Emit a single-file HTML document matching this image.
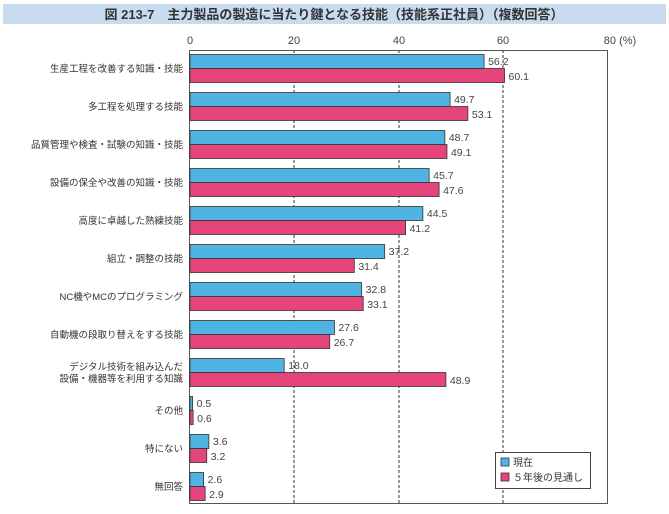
<!DOCTYPE html>
<html><head><meta charset="utf-8"><style>
body{margin:0;background:#fff;width:669px;height:509px;overflow:hidden;font-family:"Liberation Sans","Noto Sans CJK JP",sans-serif}
</style></head><body>
<svg width="669" height="509" xmlns="http://www.w3.org/2000/svg" font-family="Liberation Sans, Noto Sans CJK JP, sans-serif">
<rect x="3" y="4" width="663" height="20" fill="#c9dcef"/>
<text x="334" y="19" text-anchor="middle" font-size="13" font-weight="bold" fill="#333">図 213-7　主力製品の製造に当たり鍵となる技能（技能系正社員）（複数回答）</text>
<g font-size="11" fill="#444" text-anchor="middle">
<text x="190" y="44">0</text><text x="294" y="44">20</text><text x="399" y="44">40</text><text x="503" y="44">60</text><text x="620" y="44">80 (%)</text>
</g>
<g stroke="#333" stroke-dasharray="3,2" stroke-width="1">
<line x1="294" y1="50" x2="294" y2="503"/><line x1="399" y1="50" x2="399" y2="503"/><line x1="503" y1="50" x2="503" y2="503"/>
</g>
<rect x="189.5" y="50.5" width="418" height="453" fill="none" stroke="#555" stroke-width="1"/>
<g id="bars"></g>
<rect x="495.5" y="452.5" width="95" height="36" fill="#fff" stroke="#444"/>
<rect x="501" y="458" width="8" height="8" fill="#4fb3e3" stroke="#333" stroke-width="0.8"/>
<text x="513" y="466" font-size="10" fill="#333">現在</text>
<rect x="501" y="473" width="8" height="8" fill="#e5457c" stroke="#333" stroke-width="0.8"/>
<text x="513" y="481" font-size="10" fill="#333">５年後の見通し</text>
</svg>
<script>
const d=[["生産工程を改善する知識・技能",56.2,60.1],["多工程を処理する技能",49.7,53.1],["品質管理や検査・試験の知識・技能",48.7,49.1],["設備の保全や改善の知識・技能",45.7,47.6],["高度に卓越した熟練技能",44.5,41.2],["組立・調整の技能",37.2,31.4],["NC機やMCのプログラミング",32.8,33.1],["自動機の段取り替えをする技能",27.6,26.7],["デジタル技術を組み込んだ|設備・機器等を利用する知識",18.0,48.9],["その他",0.5,0.6],["特にない",3.6,3.2],["無回答",2.6,2.9]];
const g=document.getElementById('bars');const ns="http://www.w3.org/2000/svg";let h='';
const s=5.233,x0=190;
d.forEach((r,i)=>{const y=54+i*38;
const L=r[0].split('|');
if(L.length==1)h+=`<text x="183" y="${y+18}" font-size="9.5" fill="#333" text-anchor="end">${L[0]}</text>`;
else h+=`<text x="183" y="${y+12}" font-size="9.5" fill="#333" text-anchor="end">${L[0]}</text><text x="183" y="${y+24}" font-size="9.5" fill="#333" text-anchor="end">${L[1]}</text>`;
const w1=r[1]*s,w2=r[2]*s;
h+=`<rect x="${x0}" y="${y}.5" width="${w1}" height="14" fill="#4fb3e3" stroke="#333" stroke-width="0.8"/>`;
h+=`<rect x="${x0}" y="${y+14}.5" width="${w2}" height="14" fill="#e5457c" stroke="#333" stroke-width="0.8"/>`;
h+=`<text x="${x0+w1+4}" y="${y+11}" font-size="10.5" fill="#444">${r[1].toFixed(1)}</text>`;
h+=`<text x="${x0+w2+4}" y="${y+26}" font-size="10.5" fill="#444">${r[2].toFixed(1)}</text>`;
});
g.innerHTML=h;
</script>
</body></html>
